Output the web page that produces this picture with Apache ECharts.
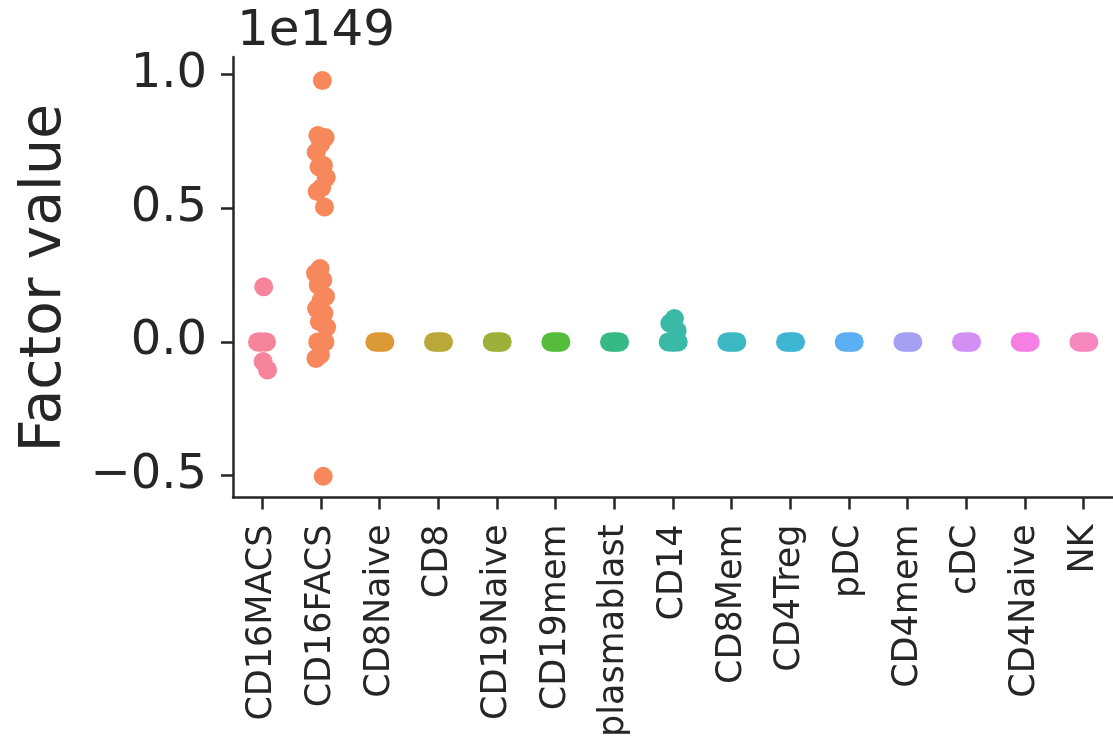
<!DOCTYPE html>
<html>
<head>
<meta charset="utf-8">
<title>Factor value by cell type</title>
<script src="https://cdn.jsdelivr.net/npm/echarts/dist/echarts.min.js"></script>
<style>
  html, body { margin: 0; padding: 0; background: #ffffff; }
  #chart { width: 1113px; height: 740px; }
</style>
</head>
<body>
<div id="chart"></div>
<script>
// Cell types along the x axis
const categories = ['CD16MACS', 'CD16FACS', 'CD8Naive', 'CD8', 'CD19Naive', 'CD19mem',
  'plasmablast', 'CD14', 'CD8Mem', 'CD4Treg', 'pDC', 'CD4mem', 'cDC', 'CD4Naive', 'NK'];

// Factor values per cell type, in units of 1e149
const cd16macs = [0.206, 0, 0, 0, 0, 0, 0, -0.105, -0.073];
const cd16facs = [0.978, 0.772, 0.765, 0.740, 0.710, 0.660, 0.655, 0.615, 0.578, 0.563, 0.505,
  0.275, 0.257, 0.232, 0.212, 0.170, 0.155, 0.125, 0.107, 0.076, 0.055,
  0, 0, 0, -0.048, -0.062, -0.503];
const cd8naive = [0, 0, 0, 0, 0, 0, 0, 0, 0];
const cd8 = [0, 0, 0, 0, 0, 0, 0, 0, 0];
const cd19naive = [0, 0, 0, 0, 0, 0, 0, 0, 0];
const cd19mem = [0, 0, 0, 0, 0, 0, 0, 0, 0];
const plasmablast = [0, 0, 0, 0, 0, 0, 0, 0, 0];
const cd14 = [0.088, 0.070, 0.042, 0, 0, 0, 0, 0, 0];
const cd8mem = [0, 0, 0, 0, 0, 0, 0, 0, 0];
const cd4treg = [0, 0, 0, 0, 0, 0, 0, 0, 0];
const pdc = [0, 0, 0, 0, 0, 0, 0, 0, 0];
const cd4mem = [0, 0, 0, 0, 0, 0, 0, 0, 0];
const cdc = [0, 0, 0, 0, 0, 0, 0, 0, 0];
const cd4naive = [0, 0, 0, 0, 0, 0, 0, 0, 0];
const nk = [0, 0, 0, 0, 0, 0, 0, 0, 0];

const valuesByCategory = [cd16macs, cd16facs, cd8naive, cd8, cd19naive, cd19mem, plasmablast,
  cd14, cd8mem, cd4treg, pdc, cd4mem, cdc, cd4naive, nk];

// Y axis tick values (units of 1e149) and the axis offset label
const yTicks = [-0.5, 0.0, 0.5, 1.0];
const yMin = -0.582;
const yMax = 1.066;
const offsetLabel = '1e149';

// husl-style palette, one colour per cell type
const palette = ['#f6849a', '#f7885c', '#dc9a37', '#baa83a', '#9cb139', '#55bd3b', '#36ba85',
  '#39b9a6', '#3bb8c3', '#3db5d3', '#5aaff5', '#a5a0f3', '#d38ff4', '#f67fe4', '#f788bf'];

const ink = '#262626';
const FONT = 'DejaVu Sans';
const MARKER_R = 9.5;
const JITTER = 0.1; // half-width of the strip jitter, in category bands

// Deterministic strip jitter: golden-ratio sequence in [-JITTER, JITTER]
function jitterFor(i) {
  const g = ((i + 1) * 0.6180339887498949) % 1;
  return (g - 0.5) * 2 * JITTER;
}

const series = valuesByCategory.map((vals, ci) => ({
  type: 'custom',
  name: categories[ci],
  data: vals.map(v => [ci, v]),
  encode: { x: 0, y: 1 },
  renderItem: function (params, api) {
    const c = api.value(0);
    const v = api.value(1);
    const p = api.coord([c, v]);
    const band = api.coord([c + 1, v])[0] - p[0];
    const dx = jitterFor(params.dataIndex) * band;
    return {
      type: 'circle',
      shape: { cx: p[0] + dx, cy: p[1], r: MARKER_R },
      style: { fill: palette[ci] }
    };
  }
}));

const chart = echarts.init(document.getElementById('chart'), null, { renderer: 'canvas' });
chart.setOption({
  backgroundColor: '#ffffff',
  animation: false,
  grid: { left: 233, top: 57, right: -10, bottom: 240, containLabel: false },
  xAxis: {
    type: 'category',
    data: categories,
    boundaryGap: true,
    axisLine: { show: true, onZero: false, lineStyle: { color: ink, width: 2.5 } },
    axisTick: { show: true, alignWithLabel: true, inside: false, length: 12,
      lineStyle: { color: ink, width: 2.5 } },
    axisLabel: {
      rotate: 90, margin: 27, color: ink, fontFamily: FONT, fontSize: 35, interval: 0
    },
    splitLine: { show: false }
  },
  yAxis: {
    type: 'value',
    min: yMin,
    max: yMax,
    axisLine: { show: true, onZero: false, lineStyle: { color: ink, width: 2.5 } },
    axisTick: { show: true, inside: false, length: 12, lineStyle: { color: ink, width: 2.5 },
      customValues: yTicks },
    axisLabel: {
      color: ink, fontFamily: FONT, fontSize: 48, margin: 26,
      customValues: yTicks,
      formatter: v => (v < 0 ? '\u2212' : '') + Math.abs(v).toFixed(1)
    },
    splitLine: { show: false }
  },
  graphic: [
    {
      type: 'text', left: 237, top: 7,
      style: { text: offsetLabel, fill: ink, font: '50px "DejaVu Sans"' }
    },
    {
      type: 'text', x: 45, y: 278, rotation: Math.PI / 2,
      style: {
        text: 'Factor value', fill: ink, font: '57px "DejaVu Sans"',
        align: 'center', verticalAlign: 'middle'
      }
    }
  ],
  series: series
});
</script>
</body>
</html>
